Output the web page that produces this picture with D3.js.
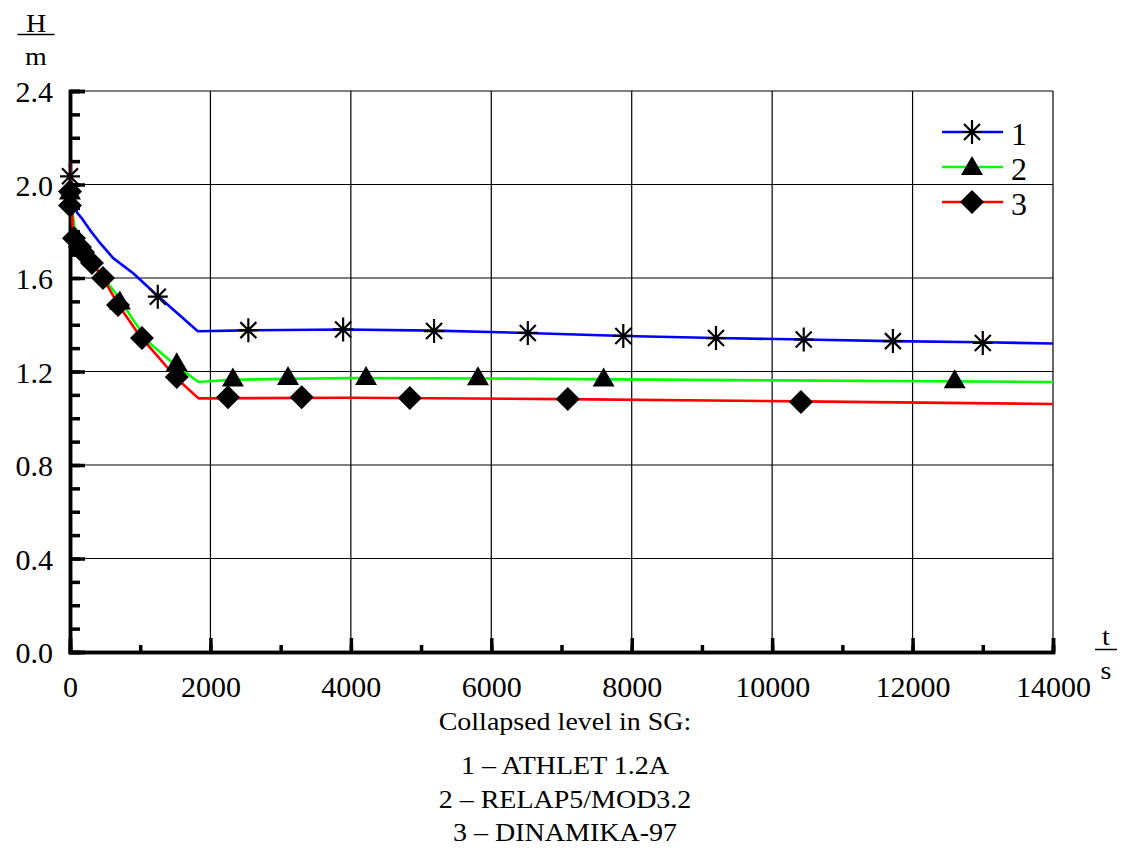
<!DOCTYPE html>
<html>
<head>
<meta charset="utf-8">
<script src="https://cdn.jsdelivr.net/npm/d3@7"></script>
<style>
  body { margin: 0; background: #fff; }
</style>
</head>
<body>
<svg id="chart" width="1125" height="850"></svg>
<script>
const FONT = "Liberation Serif";
const WIDE = 1.12; // horizontal stretch of the title/caption lettering

// Time axis (s) and collapsed level (m) values for the three codes
const athletLine = [
  [0, 2.09], [20, 2.0], [40, 1.95], [70, 1.92], [100, 1.88], [170, 1.855], [285, 1.805],
  [427, 1.75], [615, 1.685], [900, 1.62], [1235, 1.527], [1820, 1.372], [2500, 1.376],
  [3900, 1.38], [5200, 1.375], [6500, 1.365], [7900, 1.352], [9200, 1.343],
  [10450, 1.337], [11700, 1.33], [13000, 1.325], [14000, 1.32]
];
const athletMarks = [
  [0, 2.035], [1250, 1.52], [2540, 1.377], [3890, 1.38], [5185, 1.373], [6520, 1.365],
  [7880, 1.352], [9200, 1.343], [10450, 1.337], [11720, 1.33], [13000, 1.322]
];
const relapLine = [
  [0, 2.0], [30, 1.9], [60, 1.82], [100, 1.8], [285, 1.69], [427, 1.62], [670, 1.527],
  [900, 1.42], [1140, 1.32], [1470, 1.235], [1830, 1.155], [2300, 1.165], [4000, 1.172],
  [6000, 1.17], [10000, 1.162], [14000, 1.155]
];
const relapMarks = [
  [0, 1.97], [710, 1.5], [1520, 1.235], [2320, 1.17], [3105, 1.177], [4216, 1.177],
  [5810, 1.175], [7600, 1.17], [12600, 1.163]
];
const dinamikaLine = [
  [0, 2.09], [20, 1.95], [40, 1.8], [60, 1.77], [150, 1.73], [300, 1.67], [470, 1.6],
  [700, 1.48], [1000, 1.35], [1250, 1.265], [1520, 1.17], [1830, 1.085], [4000, 1.088],
  [7000, 1.082], [10400, 1.072], [14000, 1.061]
];
const dinamikaMarks = [
  [0, 1.97], [0, 1.91], [57, 1.77], [142, 1.733], [185, 1.71], [313, 1.664], [470, 1.6],
  [684, 1.484], [1025, 1.343], [1520, 1.177], [2250, 1.09], [3300, 1.09], [4840, 1.087],
  [7090, 1.082], [10410, 1.07]
];

const seriesLabels = ["1", "2", "3"];
const xTicks = [0, 2000, 4000, 6000, 8000, 10000, 12000, 14000];
const yTicks = [0.0, 0.4, 0.8, 1.2, 1.6, 2.0, 2.4];
const captionLines = ["Collapsed level in SG:", "1 – ATHLET 1.2A", "2 – RELAP5/MOD3.2", "3 – DINAMIKA-97"];
const captionBaselines = [730, 774, 808, 841];

const svg = d3.select("#chart");
const x = d3.scaleLinear().domain([0, 14000]).range([70, 1053]);
const y = d3.scaleLinear().domain([0, 2.4]).range([652, 91]);

// grid
const grid = svg.append("g");
grid.selectAll("line.gx").data(xTicks.slice(1)).join("line")
  .attr("x1", d => x(d)).attr("x2", d => x(d))
  .attr("y1", y(0)).attr("y2", y(2.4))
  .attr("stroke", "#000").attr("stroke-width", 1.2);
grid.selectAll("line.gy").data(yTicks.slice(1)).join("line")
  .attr("x1", x(0)).attr("x2", x(14000))
  .attr("y1", d => y(d)).attr("y2", d => y(d))
  .attr("stroke", "#000").attr("stroke-width", 1.2);

// axes with inward ticks
const fmtY = d3.format(".1f");
const yMinor = d3.range(0, 2.401, 0.1);
const xMinor = d3.range(0, 14001, 1000);

const gyMinor = svg.append("g").attr("transform", `translate(${x(0)},0)`)
  .call(d3.axisLeft(y).tickValues(yMinor).tickSize(-10).tickFormat(""));
const gy = svg.append("g").attr("transform", `translate(${x(0)},0)`)
  .call(d3.axisLeft(y).tickValues(yTicks).tickSize(-15).tickPadding(17).tickFormat(fmtY));
const gxMinor = svg.append("g").attr("transform", `translate(0,${y(0)})`)
  .call(d3.axisBottom(x).tickValues(xMinor).tickSize(-7).tickFormat(""));
const gx = svg.append("g").attr("transform", `translate(0,${y(0)})`)
  .call(d3.axisBottom(x).tickValues(xTicks).tickSize(-14).tickPadding(24).tickFormat(d3.format("d")));

[gyMinor, gy, gxMinor, gx].forEach(g => {
  g.attr("font-family", FONT);
  g.selectAll(".tick line").attr("stroke", "#000").attr("stroke-width", 3.5);
  g.select(".domain").attr("stroke", "#000").attr("stroke-width", 3.5);
});
gx.selectAll(".tick text").attr("font-family", FONT).attr("font-size", 30).attr("fill", "#000").attr("dy", "0.71em");
gy.selectAll(".tick text").attr("font-family", FONT).attr("font-size", 30).attr("fill", "#000").attr("dy", "0.35em");

// stretched, centred text
function wideText(parent, tx, ty, str, size) {
  return parent.append("text")
    .attr("transform", `translate(${tx},${ty}) scale(${WIDE},1)`)
    .attr("text-anchor", "middle").attr("font-family", FONT).attr("font-size", size)
    .attr("fill", "#000").text(str);
}

// axis titles as fractions
function fraction(cx, top, bottom, yTop, yBar, yBottom, w) {
  wideText(svg, cx, yTop, top, 25);
  svg.append("line").attr("x1", cx - w / 2).attr("x2", cx + w / 2)
    .attr("y1", yBar).attr("y2", yBar).attr("stroke", "#000").attr("stroke-width", 1.5);
  wideText(svg, cx, yBottom, bottom, 25);
}
fraction(36, "H", "m", 32, 34.5, 65, 37);
fraction(1106, "t", "s", 645, 649.5, 679, 22);

// series lines
const line = d3.line().x(d => x(d[0])).y(d => y(d[1]));
const series = [
  { line: athletLine, marks: athletMarks, color: "#0000ff", shape: "star" },
  { line: relapLine, marks: relapMarks, color: "#00ff00", shape: "tri" },
  { line: dinamikaLine, marks: dinamikaMarks, color: "#ff0000", shape: "dia" }
];

series.forEach(s => {
  svg.append("path").datum(s.line).attr("d", line)
    .attr("fill", "none").attr("stroke", s.color).attr("stroke-width", 2.6)
    .attr("stroke-linejoin", "round");
});

// marker drawing
function drawMarker(g, shape, cx, cy) {
  if (shape === "star") {
    const r = 12, rd = 8;
    const p = `M${cx},${cy - r}L${cx},${cy + r}M${cx - rd - 2},${cy}L${cx + rd + 2},${cy}` +
      `M${cx - rd},${cy - rd}L${cx + rd},${cy + rd}M${cx - rd},${cy + rd}L${cx + rd},${cy - rd}`;
    g.append("path").attr("d", p).attr("stroke", "#000").attr("stroke-width", 2.2).attr("fill", "none");
  } else if (shape === "tri") {
    g.append("path").attr("d", `M${cx},${cy - 11}L${cx + 11},${cy + 8}L${cx - 11},${cy + 8}Z`).attr("fill", "#000");
  } else {
    g.append("path").attr("d", `M${cx},${cy - 12}L${cx + 12},${cy}L${cx},${cy + 12}L${cx - 12},${cy}Z`).attr("fill", "#000");
  }
}

series.slice().reverse().forEach(s => {
  const g = svg.append("g");
  s.marks.forEach(d => drawMarker(g, s.shape, x(d[0]), y(d[1])));
});

// legend
const legend = svg.append("g");
series.forEach((s, i) => {
  const ly = 132 + i * 35;
  legend.append("line").attr("x1", 942).attr("x2", 1003).attr("y1", ly).attr("y2", ly)
    .attr("stroke", s.color).attr("stroke-width", 2.6);
  drawMarker(legend, s.shape, 972, ly);
  legend.append("text").attr("x", 1011).attr("y", ly + 13)
    .attr("font-family", FONT).attr("font-size", 32).attr("fill", "#000").text(seriesLabels[i]);
});

// caption
const cap = svg.append("g");
captionLines.forEach((t, i) => wideText(cap, 565, captionBaselines[i], t, 25));
</script>
</body>
</html>
